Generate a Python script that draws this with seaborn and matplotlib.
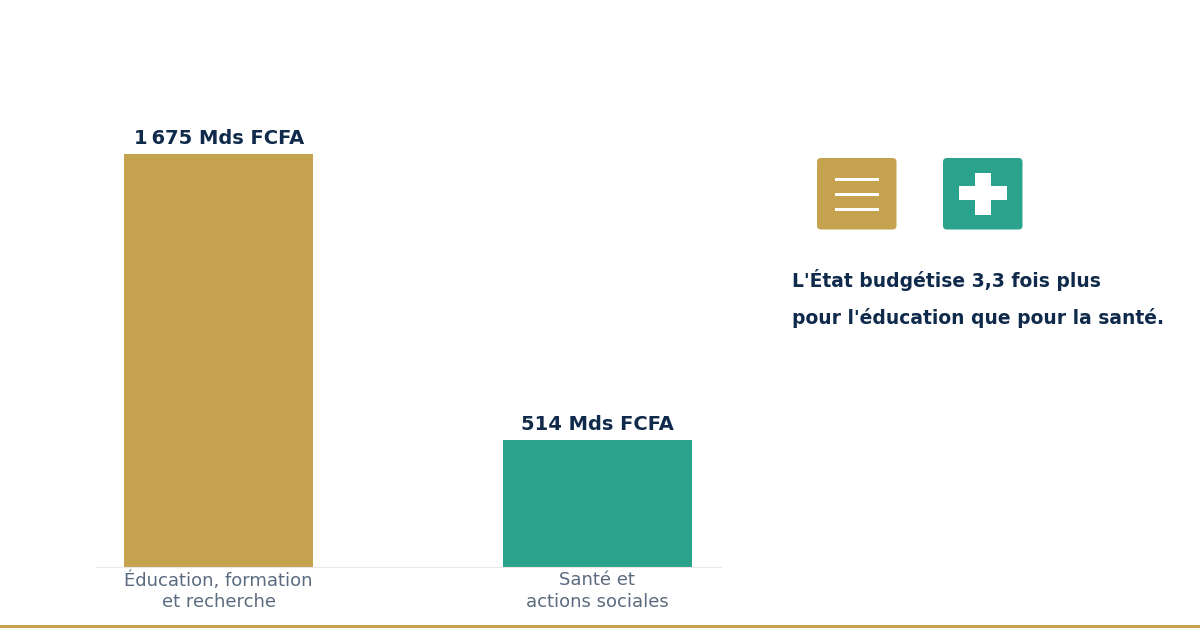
import matplotlib
matplotlib.use("Agg")
import matplotlib.pyplot as plt
from matplotlib.patches import FancyBboxPatch, Rectangle
import seaborn as sns

categories = ["Éducation, formation\net recherche", "Santé et\nactions sociales"]
budgets = [1675, 514]
bar_labels = ["1\u202f675 Mds FCFA", "514 Mds FCFA"]
callout_lines = ["L'État budgétise 3,3 fois plus", "pour l'éducation que pour la santé."]

GOLD = "#C5A24D"
TEAL = "#2BA28B"
NAVY = "#0F2A4A"
GREY = "#5B6B7F"

sns.set_theme(style="white")
plt.rcParams["font.family"] = ["DejaVu Sans"]

W, H = 1200, 630
fig = plt.figure(figsize=(W / 100, H / 100), dpi=100, facecolor="white")

# chart axes placed on the pixel grid of the reference
ax = fig.add_axes([96 / W, (H - 567) / H, 625 / W, 467 / H])
sns.barplot(x=categories, y=budgets, hue=categories, palette=[GOLD, TEAL],
            width=0.5, legend=False, saturation=1, linewidth=0, ax=ax)
ax.set_xlim(-0.3241, 1.3267)
ax.set_ylim(0, 1675 * 467 / 413)
ax.set_yticks([])
ax.tick_params(axis="x", length=0, pad=3, labelsize=13, labelcolor=GREY)
for lab in ax.get_xticklabels():
    lab.set_linespacing(1.25)
for side in ["top", "left", "right"]:
    ax.spines[side].set_visible(False)
ax.spines["bottom"].set_color("#E8E8E8")
ax.spines["bottom"].set_linewidth(0.8)
ax.patch.set_alpha(0)

for i, (v, txt) in enumerate(zip(budgets, bar_labels)):
    ax.annotate(txt, (i, v), xytext=(0, 4.5), textcoords="offset points", ha="center",
                va="bottom", fontsize=14, fontweight="bold", color=NAVY)

# overlay in pixel coordinates for the icons, callout and footer rule
over = fig.add_axes([0, 0, 1, 1], facecolor="none")
over.set_xlim(0, W)
over.set_ylim(H, 0)
over.axis("off")

for x0, col in [(817, GOLD), (943, TEAL)]:
    over.add_patch(FancyBboxPatch((x0, 158), 79.5, 71.5, boxstyle="round,pad=0,rounding_size=4",
                                  mutation_aspect=1, linewidth=0, facecolor=col))
for y in [178, 193, 208]:
    over.add_patch(Rectangle((835, y), 44, 3, facecolor="white", linewidth=0))
over.add_patch(Rectangle((975, 173), 16, 42, facecolor="white", linewidth=0))
over.add_patch(Rectangle((959, 186), 48, 14, facecolor="white", linewidth=0))

for y, line in zip([280, 318], callout_lines):
    over.text(792, y, line, fontsize=13.5, fontweight="bold", color=NAVY, va="center", ha="left")

over.add_patch(Rectangle((0, 625), W, 3, facecolor=GOLD, linewidth=0, snap=True))

fig.savefig("out.png", dpi=100)
plt.close(fig)
